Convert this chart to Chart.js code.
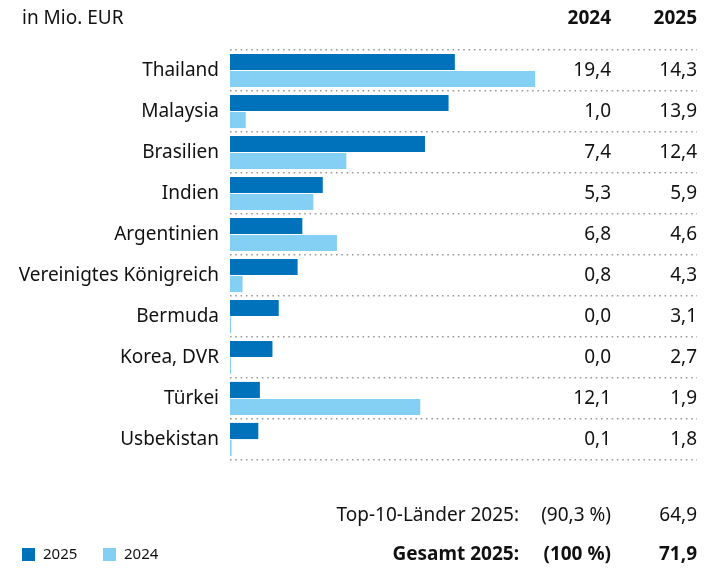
<!DOCTYPE html>
<html>
<head>
<meta charset="utf-8">
<script src="https://cdn.jsdelivr.net/npm/chart.js@4"></script>
<style>
  html, body { margin: 0; padding: 0; background: #fff; }
  #wrap { width: 713px; height: 568px; }
</style>
</head>
<body>
<div id="wrap"><canvas id="myChart" width="713" height="568"></canvas></div>
<script>
const countries = ['Thailand', 'Malaysia', 'Brasilien', 'Indien', 'Argentinien', 'Vereinigtes Königreich', 'Bermuda', 'Korea, DVR', 'Türkei', 'Usbekistan'];
const values2025 = [14.3, 13.9, 12.4, 5.9, 4.6, 4.3, 3.1, 2.7, 1.9, 1.8];
const values2024 = [19.4, 1.0, 7.4, 5.3, 6.8, 0.8, 0.0, 0.0, 12.1, 0.1];
const columnYears = ['2024', '2025'];
const unitLabel = 'in Mio. EUR';
const topTenLabel = 'Top-10-Länder 2025:';
const topTenShare = '(90,3 %)';
const topTenValue = 64.9;
const totalLabel = 'Gesamt 2025:';
const totalShare = '(100 %)';
const totalValue = 71.9;

const dark = '#0072bc';
const light = '#84cff4';
const ink = '#111';
const font = '"Noto Sans", sans-serif';

const fmt = v => v.toFixed(1).replace('.', ',');

// columns, header, footer and legend drawn next to the plot
const sideText = {
  id: 'sideText',
  afterDraw(chart) {
    const ctx = chart.ctx;
    const y = chart.scales.y;
    const col1 = 611, col2 = 697;
    ctx.save();
    ctx.fillStyle = ink;
    ctx.textBaseline = 'middle';

    ctx.font = '19px ' + font;
    ctx.textAlign = 'left';
    ctx.fillText(unitLabel, 22, 19);
    ctx.font = 'bold 19px ' + font;
    ctx.textAlign = 'right';
    ctx.fillText(columnYears[0], col1, 19);
    ctx.fillText(columnYears[1], col2, 19);

    ctx.font = '19px ' + font;
    countries.forEach((c, i) => {
      const py = y.getPixelForValue(i);
      ctx.fillText(fmt(values2024[i]), col1, py);
      ctx.fillText(fmt(values2025[i]), col2, py);
    });

    ctx.fillText(topTenLabel, 519, 516);
    ctx.fillText(topTenShare, col1, 516);
    ctx.fillText(fmt(topTenValue), col2, 516);
    ctx.font = 'bold 19px ' + font;
    ctx.fillText(totalLabel, 519, 555);
    ctx.fillText(totalShare, col1, 555);
    ctx.fillText(fmt(totalValue), col2, 555);

    // legend
    const ds = chart.data.datasets;
    let lx = 22;
    ctx.font = '15px ' + font;
    ctx.textAlign = 'left';
    ds.forEach(d => {
      ctx.fillStyle = d.backgroundColor;
      ctx.fillRect(lx, 548, 13, 13);
      ctx.fillStyle = ink;
      ctx.fillText(d.label, lx + 21, 555);
      lx += 81;
    });
    ctx.restore();
  }
};

new Chart(document.getElementById('myChart'), {
  type: 'bar',
  data: {
    labels: countries,
    datasets: [
      { label: '2025', data: values2025, backgroundColor: dark },
      { label: '2024', data: values2024, backgroundColor: light }
    ]
  },
  options: {
    indexAxis: 'y',
    responsive: false,
    animation: false,
    categoryPercentage: 0.83,
    barPercentage: 0.95,
    minBarLength: 1,
    layout: { padding: { top: 50, right: 16, bottom: 108, left: 0 } },
    plugins: { legend: { display: false }, tooltip: { enabled: false } },
    scales: {
      x: { display: false, min: 0, max: 29.7 },
      y: {
        afterFit: s => { s.width = 230; },
        border: { display: false, dash: [1.6, 3.7] },
        grid: {
          offset: true,
          color: '#9a9a9a',
          lineWidth: 1.6,
          drawTicks: false
        },
        ticks: {
          color: ink,
          padding: 11,
          font: { family: '"Noto Sans", sans-serif', size: 19 }
        }
      }
    }
  },
  plugins: [sideText]
});
</script>
</body>
</html>
